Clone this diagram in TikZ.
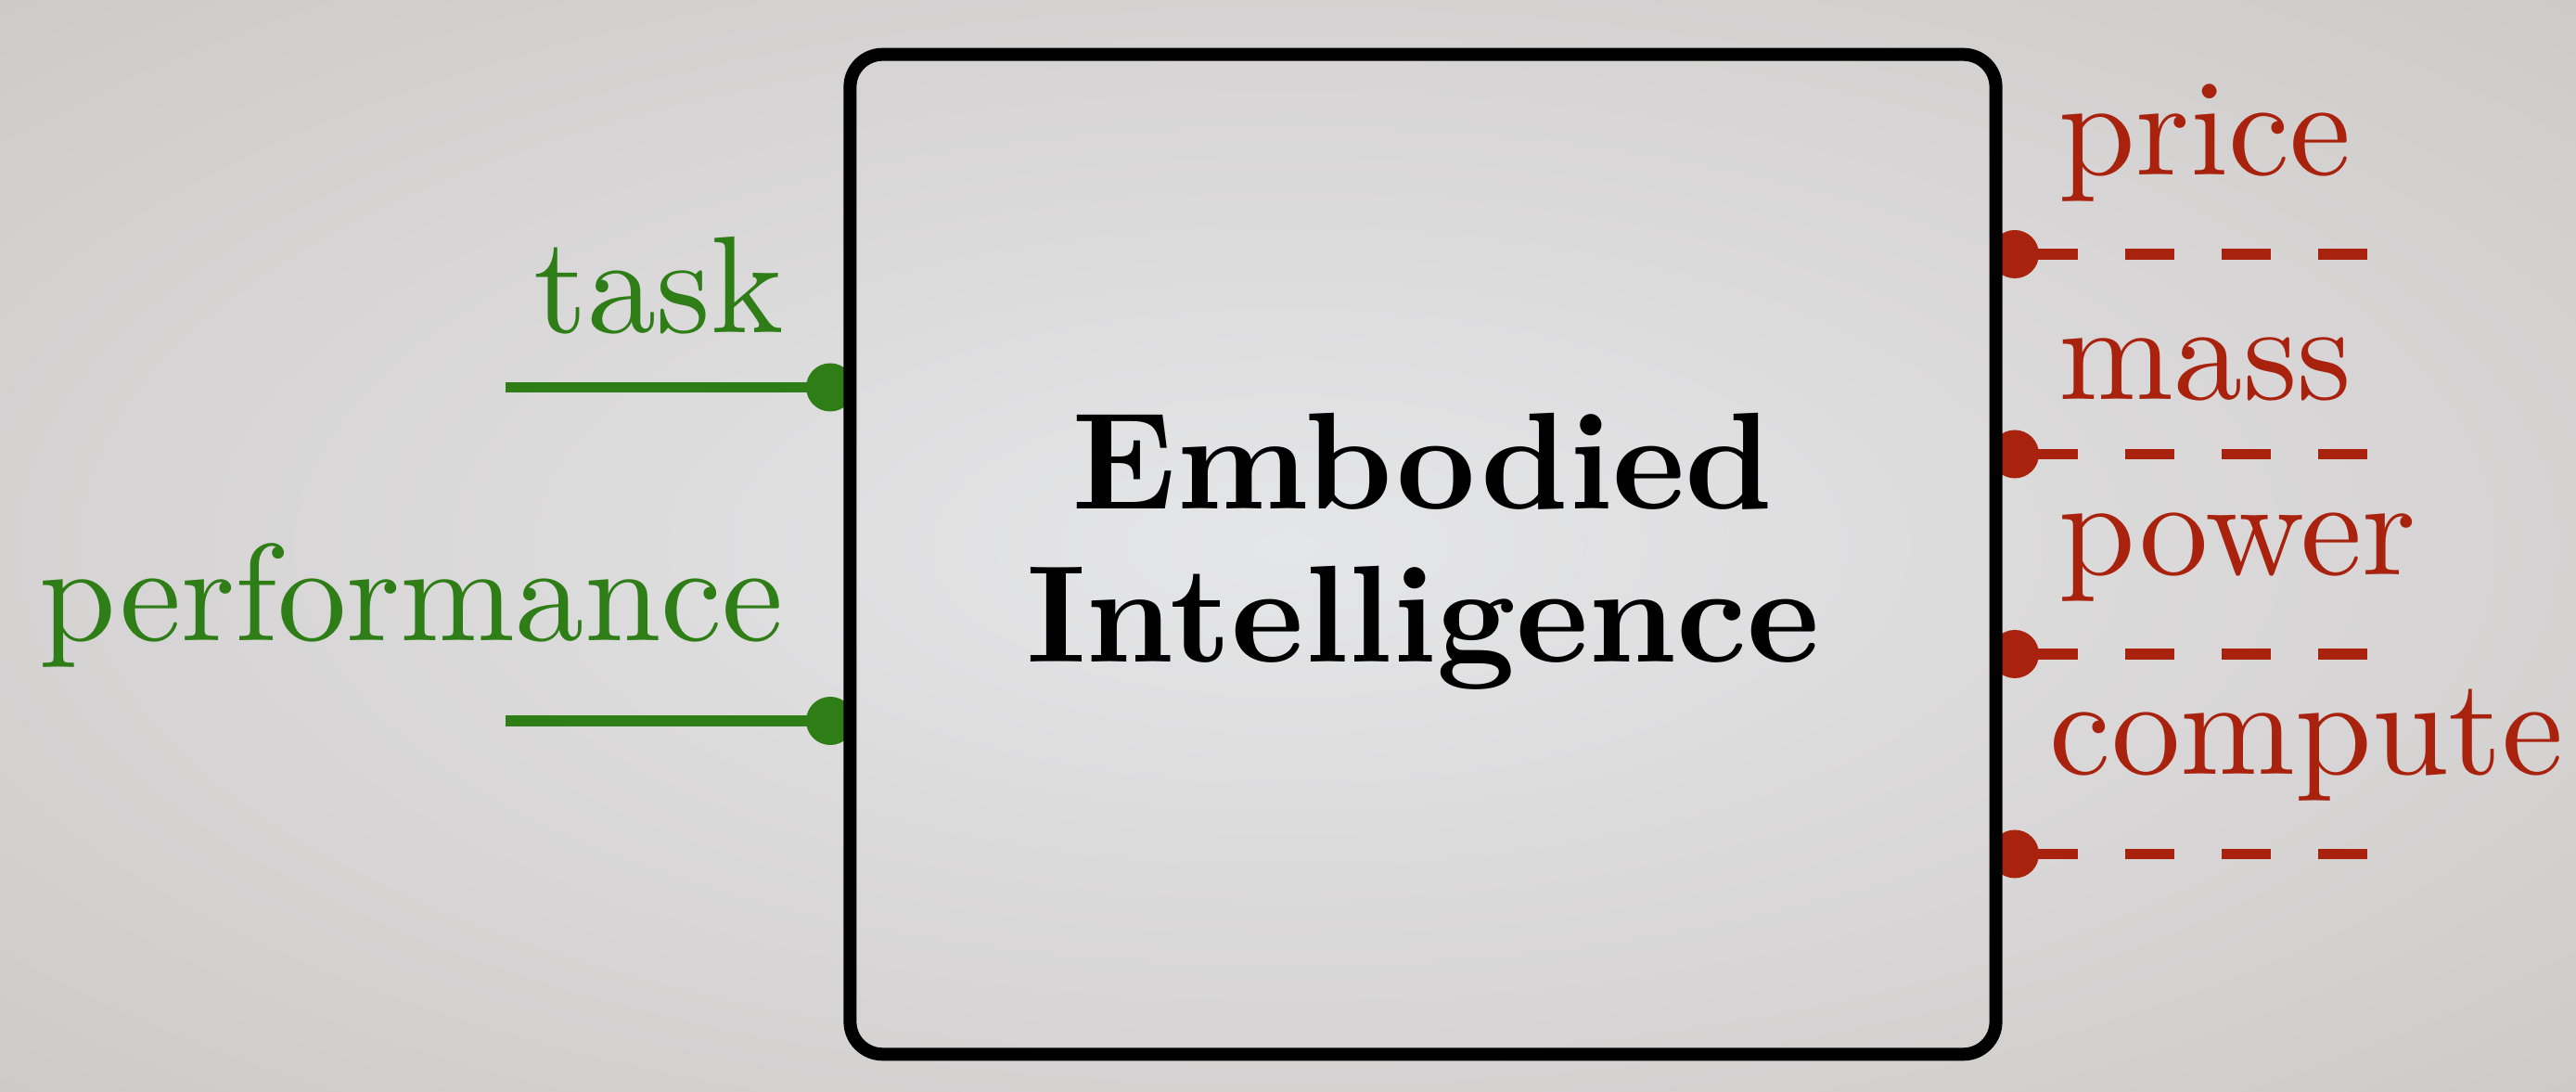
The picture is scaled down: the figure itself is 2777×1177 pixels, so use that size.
\documentclass[tikz,border=0pt]{standalone}
\usetikzlibrary{shapes.misc}

\definecolor{bgin}{RGB}{229,230,232}
\definecolor{bgout}{RGB}{183,174,170}
\definecolor{inputgreen}{RGB}{46,125,22}
\definecolor{costred}{RGB}{168,34,14}

% soft radial wash reaching the outer colour at the corners
\pgfdeclareradialshading{bgshade}{\pgfpoint{0bp}{0bp}}{%
  color(0bp)=(bgin); color(71bp)=(bgout)}

\tikzset{
  % text is set at 10pt design size and enlarged with the node
  bigtext/.style={scale=4.23, transform shape, inner sep=0pt,
    font=\fontsize{10}{11.1}\selectfont},
  mainbox/.style={draw=black, line width=0.14cm, rounded corners=0.35cm,
    minimum width=12.345cm, minimum height=10.77cm},
  title/.style={bigtext, align=center, font=\fontsize{10}{11.1}\selectfont\bfseries},
  gdot/.style={circle, fill=inputgreen, inner sep=0pt, minimum size=0.52cm},
  rdot/.style={circle, fill=costred, inner sep=0pt, minimum size=0.52cm},
  gwire/.style={draw=inputgreen, line width=0.115cm},
  rwire/.style={draw=costred, line width=0.115cm,
    dash pattern=on 0.53cm off 0.51cm, shorten <=0.15cm},
  glabel/.style={bigtext, text=inputgreen, anchor=south east},
  rlabel/.style={bigtext, text=costred, anchor=south west},
}

\begin{document}
\begin{tikzpicture}[x=0.01cm, y=-0.01cm]
  % background
  \shade[shading=bgshade] (0,0) rectangle (2777,1177);
  \useasboundingbox (0,0) rectangle (2777,1177);

  % input ports (left)
  \node[gdot] (taskdot) at (895,417.5) {};
  \node[gdot] (perfdot) at (895,777) {};
  \coordinate (taskend) at (545,417.5);
  \coordinate (perfend) at (545,777);
  \draw[gwire] (taskend) -- (taskdot.center);
  \draw[gwire] (perfend) -- (perfdot.center);
  \node[glabel] (tasklabel) at (848,363) {task};
  \node[glabel] (perflabel) at (848,722.5) {performance};

  % cost ports (right)
  \node[rdot] (pricedot)   at (2172,274) {};
  \node[rdot] (massdot)    at (2172,489.5) {};
  \node[rdot] (powerdot)   at (2172,705) {};
  \node[rdot] (computedot) at (2172,920.5) {};
  \coordinate (priceend)   at (2553,274);
  \coordinate (massend)    at (2553,489.5);
  \coordinate (powerend)   at (2553,705);
  \coordinate (computeend) at (2553,920.5);
  \draw[rwire] (pricedot.center) -- (priceend);
  \draw[rwire] (massdot.center) -- (massend);
  \draw[rwire] (powerdot.center) -- (powerend);
  \draw[rwire] (computedot.center) -- (computeend);
  \node[rlabel] (pricelabel)   at (2217,220) {price};
  \node[rlabel] (masslabel)    at (2217,435.5) {mass};
  \node[rlabel] (powerlabel)   at (2217,651) {power};
  \node[rlabel] (computelabel) at (2207,866.5) {compute};

  % the system block
  \node[mainbox] (system) at (1534,597.5) {};
  \node[title] (systemname) at (1534,594) {Embodied\\Intelligence};
\end{tikzpicture}
\end{document}
